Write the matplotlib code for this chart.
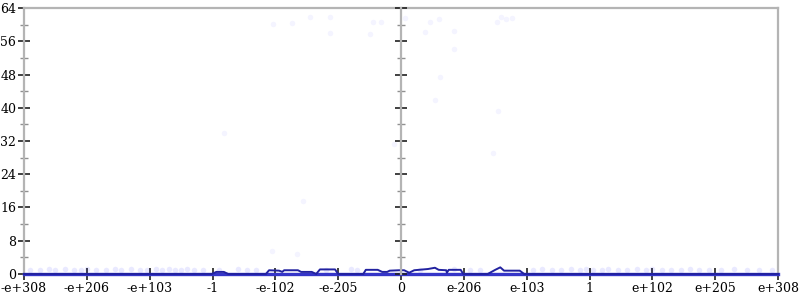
import matplotlib
matplotlib.use('Agg')
import matplotlib.pyplot as plt
from matplotlib.ticker import MultipleLocator, FixedLocator

plt.rcParams['font.family'] = ['DejaVu Serif']

# x positions are tick slots: -6 .. 6 (ordered like float bit patterns)
tick_pos = [-6, -5, -4, -3, -2, -1, 0, 1, 2, 3, 4, 5, 6]
tick_labels = ['-e+308', '-e+206', '-e+103', '-1', '-e-102', '-e-205', '0',
               'e-206', 'e-103', '1', 'e+102', 'e+205', 'e+308']

# average line
line_x = [-6.00, -3.01, -2.94, -2.82, -2.75, -2.15, -2.10, -1.94, -1.89, -1.86,
          -1.64, -1.59, -1.54, -1.42, -1.35, -1.29, -1.05, -1.00, -0.60, -0.56,
          -0.37, -0.30, -0.22, -0.18, -0.03, 0.05, 0.13, 0.21, 0.43, 0.54,
          0.60, 0.72, 0.73, 0.76, 0.95, 0.99, 1.38, 1.50, 1.58, 1.64,
          1.89, 1.96, 6.00]
line_y = [0, 0, 0.5, 0.5, 0, 0, 0.9, 0.8, 0.5, 0.9,
          0.9, 0.5, 0.5, 0.5, 0, 1.1, 1.1, 0, 0, 1.0,
          1.0, 0.5, 0.5, 0.8, 0.9, 0.9, 0.3, 0.9, 1.2, 1.5,
          1.0, 0.9, 0.3, 1.0, 1.0, 0, 0, 1.0, 1.6, 0.8,
          0.8, 0, 0]

# faint samples, high ones
high_x = [-2.04, -1.73, -1.45, -1.13, -1.13, -0.49, -0.45, -0.32, 0.06, 0.46,
          0.60, 0.38, 0.84, 0.84, 0.62, 0.54, 1.53, 1.59, 1.67, 1.77,
          1.54, -2.82, -0.11, -1.56, -2.05, -1.66, 1.46]
high_y = [60.2, 60.4, 61.8, 61.8, 58.0, 57.7, 60.6, 60.6, 61.6, 60.6,
          61.4, 58.2, 58.5, 54.1, 47.4, 41.9, 60.6, 61.8, 61.4, 61.6,
          39.2, 33.9, 31.3, 17.6, 5.5, 4.8, 29.1]

# faint samples, near the bottom
low_x = [-5.9, -5.75, -5.6, -5.5, -5.35, -5.2, -5.1, -5.0, -4.85, -4.7,
         -4.55, -4.45, -4.3, -4.15, -4.05, -3.9, -3.8, -3.7, -3.6, -3.5,
         -3.4, -3.3, -3.15, -2.9, -2.6, -2.45, -2.3, -1.2, -0.8, -0.7,
         0.3, 0.85, 1.1, 1.25, 2.1, 2.25, 2.4, 2.55, 2.7, 2.85,
         2.95, 3.05, 3.2, 3.3, 3.45, 3.6, 3.75, 3.9, 4.0, 4.15,
         4.3, 4.45, 4.6, 4.75, 4.9, 5.1, 5.3, 5.5, 5.7, 5.9]
low_y = [1.0, 0.9, 1.1, 1.0, 1.2, 0.9, 1.0, 1.1, 1.0, 0.9,
         1.2, 1.0, 1.1, 0.9, 1.0, 1.1, 1.0, 1.2, 0.9, 1.0,
         1.1, 1.0, 0.9, 1.0, 1.1, 1.0, 0.9, 1.0, 1.1, 1.0,
         1.0, 1.1, 1.0, 0.9, 1.0, 1.1, 0.9, 1.0, 1.2, 1.0,
         1.1, 0.9, 1.0, 1.1, 1.0, 0.9, 1.2, 1.0, 1.1, 1.0,
         0.9, 1.0, 1.1, 1.0, 0.9, 1.0, 1.1, 1.0, 0.9, 1.0]

fig = plt.figure(figsize=(8, 3), dpi=100)
ax = fig.add_axes([0.03, 0.0867, 0.9425, 0.8866])

ax.scatter(high_x, high_y, s=16, color='#3030ff', alpha=0.05, lw=0, zorder=2)
ax.scatter(low_x, low_y, s=16, color='#3030ff', alpha=0.10, lw=0, zorder=2)
ax.axhline(0, color='#3535c8', lw=2.4, zorder=3, clip_on=False)
ax.plot(line_x, line_y, color='#2222a0', lw=1.4, zorder=4, clip_on=False)

ax.set_xlim(-6, 6)
ax.set_ylim(0, 64)

gray = '#b4b4b4'
for side in ['left', 'right', 'top']:
    ax.spines[side].set_color(gray)
    ax.spines[side].set_linewidth(1.6)
ax.spines['bottom'].set_visible(False)

ax.xaxis.set_major_locator(FixedLocator(tick_pos))
ax.set_xticklabels(tick_labels)
ax.yaxis.set_major_locator(MultipleLocator(8))
ax.yaxis.set_minor_locator(MultipleLocator(4))
ax.tick_params(axis='y', which='major', direction='inout', length=9, width=1.2,
               color='#202020', labelsize=9, right=True, pad=1)
ax.tick_params(axis='y', which='minor', direction='inout', length=6, width=1,
               color='#909090', right=True)
ax.tick_params(axis='x', which='major', direction='inout', length=8, width=1.2,
               color='#202020', labelsize=9, pad=2)

# center axis at x = 0
ax2 = ax.twinx()
ax2.set_ylim(0, 64)
for side in ['left', 'top', 'bottom']:
    ax2.spines[side].set_visible(False)
ax2.spines['right'].set_position(('axes', 0.5))
ax2.spines['right'].set_color(gray)
ax2.spines['right'].set_linewidth(1.6)
ax2.yaxis.set_major_locator(MultipleLocator(8))
ax2.yaxis.set_minor_locator(MultipleLocator(4))
ax2.tick_params(axis='y', which='major', direction='inout', length=9, width=1.2,
                color='#202020', labelright=False)
ax2.tick_params(axis='y', which='minor', direction='inout', length=6, width=1,
                color='#909090')

fig.savefig('out.png', dpi=100)
